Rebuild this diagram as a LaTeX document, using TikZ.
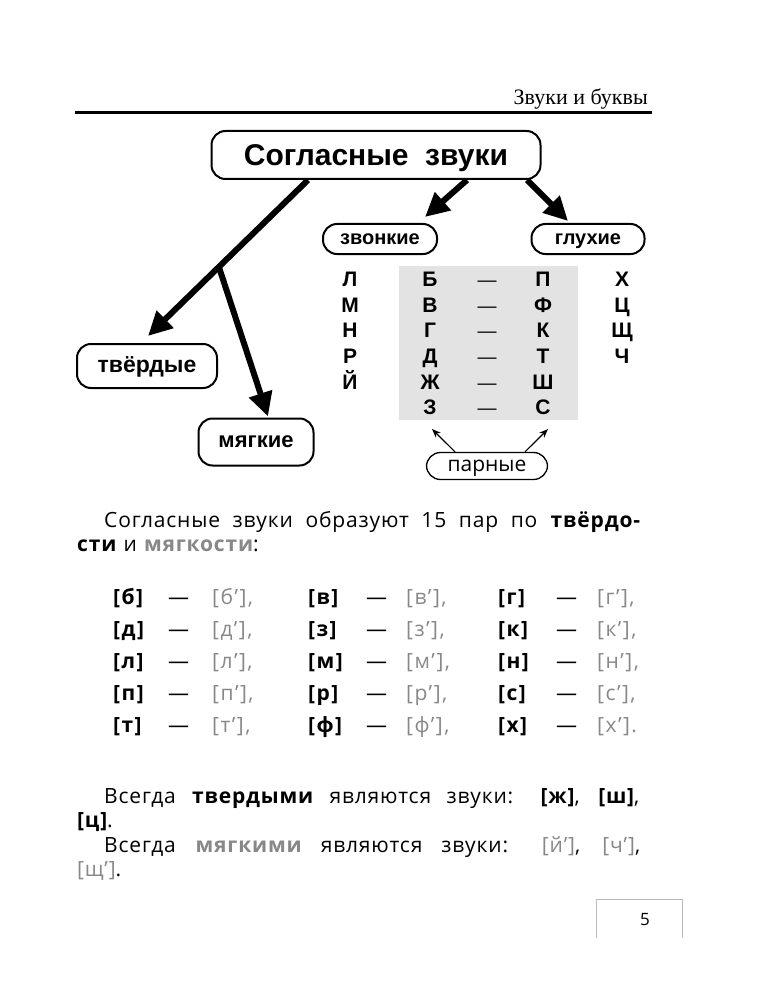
\documentclass[tikz,border=0pt]{standalone}
\usepackage{fontspec}
\setmainfont{Open Sans}[LetterSpace=4]
\newfontfamily\headserif{Liberation Serif}
\newfontfamily\schemefont{Liberation Sans}[BoldFont={Liberation Sans Bold}]
\usetikzlibrary{arrows.meta, positioning}

\definecolor{softgray}{HTML}{888888}
\definecolor{pairshade}{HTML}{E3E3E3}
\definecolor{pagegray}{HTML}{BBBBBB}

\newcommand{\softtext}[1]{\textcolor{softgray}{#1}}

\begin{document}
\begin{tikzpicture}[x=1pt, y=-1pt,
  scheme/.style={draw, line width=2pt, rounded corners=14pt, inner sep=0pt,
    text height=17pt, text depth=5pt,
    font=\schemefont\bfseries\fontsize{23}{25}\selectfont},
  bigarrow/.style={line width=6pt, -{Triangle[length=24pt,width=23pt]}},
  thinarrow/.style={line width=1.2pt, -{Stealth[length=9pt,width=7pt]}},
  letter/.style={font=\schemefont\bfseries\fontsize{21}{22}\selectfont, inner sep=0pt, anchor=base},
  pair/.style={font=\fontsize{21}{22}\selectfont\addfontfeature{LetterSpace=7}, anchor=base west, inner sep=0pt},
  body/.style={font=\fontsize{21}{24.5}\selectfont, text width=563pt, align=justify,
    anchor=north west, inner sep=0pt}
]

  \useasboundingbox (0,0) rectangle (759,1000);

  % --- Header ---
  \node[font=\headserif\fontsize{22}{23}\selectfont, anchor=base east, inner sep=0pt] (title) at (648,105) {Звуки и буквы};
  \draw[line width=3pt] (75,113) -- (652,113);

  % --- Scheme boxes ---
  \node[scheme, minimum width=329pt, minimum height=48pt, text height=21.5pt, text depth=0pt,
    font=\schemefont\bfseries\fontsize{30}{32}\selectfont] (main) at (376,155) {Согласные\ \ звуки};
  \node[scheme, minimum width=114pt, minimum height=30pt, text height=15.4pt,
    font=\schemefont\bfseries\fontsize{20}{22}\selectfont] (voiced) at (380,239) {звонкие};
  \node[scheme, minimum width=113pt, minimum height=30pt, text height=15.4pt,
    font=\schemefont\bfseries\fontsize{20}{22}\selectfont] (voiceless) at (588,239) {глухие};
  \node[scheme, minimum width=140pt, minimum height=44pt] (hard) at (147,366) {твёрдые};
  \node[scheme, minimum width=115pt, minimum height=47pt, text height=16.4pt,
    font=\schemefont\bfseries\fontsize{22}{24}\selectfont] (soft) at (256,442) {мягкие};

  % --- Thick arrows ---
  \coordinate (hardfrom) at ([xshift=-68pt]main.south);
  \draw[bigarrow] (hardfrom) -- coordinate[pos=0.557] (fork) ([xshift=1pt,yshift=7pt]hard.north);
  \draw[bigarrow] (fork) -- ([xshift=12pt,yshift=1pt]soft.north);
  \draw[bigarrow] ([xshift=91pt]main.south) -- ([xshift=45pt,yshift=6pt]voiced.north);
  \draw[bigarrow] ([xshift=151pt]main.south) -- ([xshift=-20pt,yshift=2pt]voiceless.north);

  % --- Letter table ---
  \fill[pairshade] (399,266) rectangle (578,420);
  \foreach \l/\v/\u/\r [count=\i] in {Л/Б/П/Х, М/В/Ф/Ц, Н/Г/К/Щ, Р/Д/Т/Ч, Й/Ж/Ш/{}, {}/З/С/{}} {
    \node[letter] (l\i) at (350, 261+25.6*\i) {\l};
    \node[letter] (v\i) at (430, 261+25.6*\i) {\v};
    \node[letter, font=\schemefont\fontsize{19}{20}\selectfont] (d\i) at (487, 261+25.6*\i) {—};
    \node[letter] (u\i) at (543, 261+25.6*\i) {\u};
    \node[letter] (r\i) at (622, 261+25.6*\i) {\r};
  }

  % --- Paired ---
  \node[scheme, line width=1.3pt, minimum width=121pt, minimum height=27pt, text height=16.2pt,
    font=\fontsize{21}{22}\selectfont\addfontfeature{LetterSpace=0}] (paired) at (487,466) {парные};
  \draw[thinarrow] ([xshift=-32pt]paired.north) -- ([xshift=2pt,yshift=-14pt]v6.south);
  \draw[thinarrow] ([xshift=38pt]paired.north) -- ([xshift=5pt,yshift=-14pt]u6.south);

  % --- Text about pairs ---
  \node[body] (pairsnote) at (77,511) {\hspace*{27pt}Согласные звуки образуют 15 пар по \textbf{твёрдо-}\linebreak\textbf{сти} и \textbf{\softtext{мягкости}}:};

  \foreach \a/\b/\c [count=\i] in {б/в/г, д/з/к, л/м/н, п/р/с, т/ф/х} {
    \node[pair] (a\i) at (113, 572+32*\i) {\bfseries[\a]};
    \node[pair] at (168, 572+32*\i) {—};
    \node[pair, text=softgray] at (212, 572+32*\i) {[\a’],};
    \node[pair] (b\i) at (308, 572+32*\i) {\bfseries[\b]};
    \node[pair] at (366, 572+32*\i) {—};
    \node[pair, text=softgray] at (406, 572+32*\i) {[\b’],};
    \node[pair] (c\i) at (498, 572+32*\i) {\bfseries[\c]};
    \node[pair] at (556, 572+32*\i) {—};
    \node[pair, text=softgray] at (597, 572+32*\i) {[\c’]\ifnum\i=5 .\else,\fi};
  }

  % --- Always hard / always soft ---
  \node[body] (always) at (77,788) {\hspace*{27pt}Всегда \textbf{твердыми} являются звуки: \textbf{[ж]}, \textbf{[ш]},\linebreak\textbf{[ц]}.\par
    \hspace*{27pt}Всегда \textbf{\softtext{мягкими}} являются звуки: \softtext{[й’]}, \softtext{[ч’]},\linebreak\softtext{[щ’]}.};

  % --- Page number ---
  \draw[pagegray, line width=1pt] (596,938) |- (682,899) -- (682,938);
  \node[font=\fontsize{17}{18}\selectfont] (page) at (645,920) {5};

\end{tikzpicture}
\end{document}
